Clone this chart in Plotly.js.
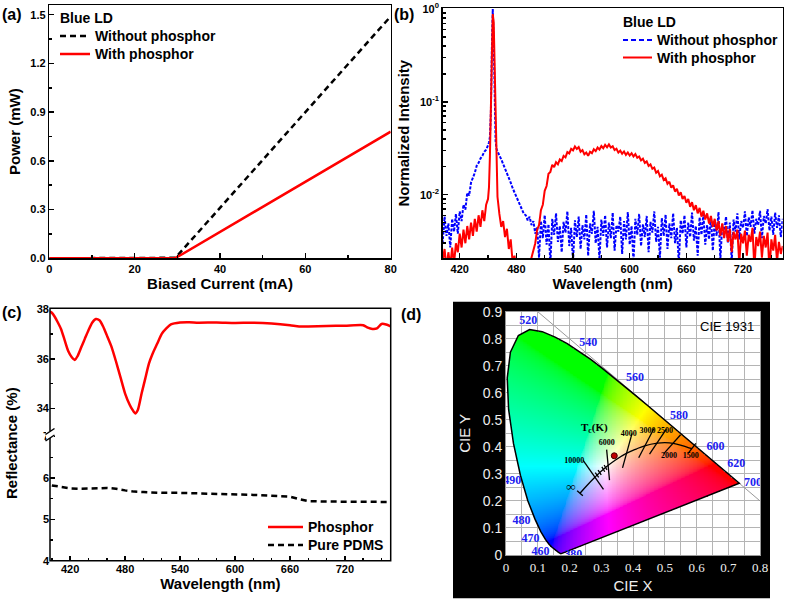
<!DOCTYPE html>
<html>
<head>
<meta charset="utf-8">
<script src="https://cdn.plot.ly/plotly-3.0.1.min.js"></script>
<style>body{margin:0;background:#fff}</style>
</head>
<body>
<div id="chart" style="width:787px;height:602px"></div>
<script>
// ---------- (a) power vs current ----------
const current = [0, 10, 20, 29, 29.5, 30, 40, 50, 60, 70, 80];
const powerNoPhos = [0, 0, 0, 0, 0.003, 0.016, 0.31, 0.605, 0.9, 1.195, 1.49];
const powerPhos = [0, 0, 0, 0, 0.002, 0.008, 0.163, 0.318, 0.473, 0.627, 0.78];

// ---------- (b) normalized spectra ----------
const wlB = [
  400,402,404,406,408,410,412,414,416,418,
  420,422,424,426,428,430,432,434,436,438,
  440,442,444,446,448,450,451,452,453,454,
  455,456,457,458,459,460,462,464,466,468,
  470,472,474,476,478,480,482,484,486,488,
  490,492,494,496,498,500,502,504,506,508,
  510,512,514,516,518,520,522,524,526,528,
  530,532,534,536,538,540,542,544,546,548,
  550,552,554,556,558,560,562,564,566,568,
  570,572,574,576,578,580,582,584,586,588,
  590,592,594,596,598,600,602,604,606,608,
  610,612,614,616,618,620,622,624,626,628,
  630,632,634,636,638,640,642,644,646,648,
  650,652,654,656,658,660,662,664,666,668,
  670,672,674,676,678,680,682,684,686,688,
  690,692,694,696,698,700,702,704,706,708,
  710,712,714,716,718,720,722,724,726,728,
  730,732,734,736,738,740,742,744,746,748,
  750,752,754,756,758,760,762
];
const specNoPhos = [
  0.0045,0.0031,0.0058,0.0036,0.0049,0.0027,0.0055,0.0040,0.0062,0.0038,
  0.0066,0.0052,0.0078,0.0069,0.0105,0.0098,0.0135,0.0150,0.0172,0.0205,
  0.0220,0.0245,0.0262,0.0290,0.0305,0.0340,0.0365,0.0420,0.075,0.35,
  1.0,0.45,0.09,0.038,0.031,0.029,0.0265,0.0240,0.0215,0.0190,
  0.0172,0.0150,0.0135,0.0118,0.0106,0.0093,0.0082,0.0076,0.0068,0.0062,
  0.0060,0.0053,0.0058,0.0047,0.0052,0.0038,0.0045,0.0021,0.0052,0.0034,
  0.0060,0.0029,0.0048,0.0018,0.0055,0.0037,0.0063,0.0031,0.0046,0.0024,
  0.0051,0.0039,0.0066,0.0028,0.0044,0.0019,0.0053,0.0035,0.0058,0.0026,
  0.0047,0.0033,0.0061,0.0022,0.0049,0.0038,0.0067,0.0030,0.0045,0.0020,
  0.0054,0.0036,0.0060,0.0027,0.0050,0.0034,0.0064,0.0025,0.0047,0.0040,
  0.0058,0.0023,0.0052,0.0033,0.0065,0.0029,0.0046,0.0019,0.0055,0.0037,
  0.0062,0.0028,0.0048,0.0035,0.0059,0.0024,0.0051,0.0039,0.0066,0.0031,
  0.0045,0.0021,0.0056,0.0036,0.0061,0.0026,0.0049,0.0034,0.0063,0.0030,
  0.0044,0.0018,0.0053,0.0038,0.0060,0.0027,0.0050,0.0035,0.0064,0.0032,
  0.0046,0.0022,0.0057,0.0037,0.0062,0.0029,0.0047,0.0033,0.0059,0.0025,
  0.0052,0.0036,0.0065,0.0020,0.0048,0.0039,0.0058,0.0030,0.0050,0.0019,
  0.0054,0.0040,0.0063,0.0033,0.0052,0.0044,0.0066,0.0036,0.0057,0.0045,
  0.0068,0.0038,0.0055,0.0047,0.0067,0.0034,0.0059,0.0049,0.0070,0.0041,
  0.0058,0.0037,0.0064,0.0044,0.0060,0.0035,0.0055
];
const specPhos = [
  0.0015,0.0019,0.0026,0.0016,0.0024,0.0017,0.0027,0.0018,0.0030,0.0024,
  0.0038,0.0027,0.0042,0.0030,0.0046,0.0033,0.0050,0.0036,0.0055,0.0040,
  0.0060,0.0045,0.0068,0.0052,0.0078,0.0090,0.0120,0.026,0.09,0.40,
  0.88,0.72,0.20,0.048,0.017,0.0095,0.0062,0.0045,0.0052,0.0035,
  0.0043,0.0026,0.0033,0.0019,0.0022,0.0015,0.0012,0.0014,0.0011,0.0013,
  0.0010,0.0014,0.0016,0.0021,0.0025,0.0030,0.0042,0.0047,0.0068,0.0078,
  0.0110,0.0124,0.0168,0.0176,0.0210,0.0198,0.0224,0.0212,0.0240,0.0230,
  0.0262,0.0252,0.0287,0.0278,0.0312,0.0300,0.0330,0.0310,0.0326,0.0290,
  0.0302,0.0272,0.0284,0.0262,0.0290,0.0280,0.0308,0.0294,0.0322,0.0306,
  0.0334,0.0316,0.0344,0.0324,0.0348,0.0322,0.0332,0.0302,0.0312,0.0284,
  0.0298,0.0276,0.0292,0.0268,0.0285,0.0264,0.0280,0.0258,0.0274,0.0250,
  0.0258,0.0234,0.0244,0.0220,0.0228,0.0204,0.0212,0.0190,0.0196,0.0172,
  0.0180,0.0158,0.0164,0.0144,0.0150,0.0131,0.0138,0.0119,0.0126,0.0108,
  0.0116,0.0098,0.0106,0.0090,0.0097,0.0082,0.0090,0.0074,0.0083,0.0068,
  0.0077,0.0063,0.0072,0.0058,0.0067,0.0054,0.0063,0.0049,0.0059,0.0045,
  0.0055,0.0041,0.0052,0.0036,0.0049,0.0034,0.0046,0.0031,0.0043,0.0024,
  0.0040,0.0033,0.0042,0.0018,0.0038,0.0030,0.0041,0.0022,0.0037,0.0031,
  0.0044,0.0016,0.0035,0.0028,0.0040,0.0021,0.0036,0.0027,0.0039,0.0015,
  0.0033,0.0025,0.0037,0.0019,0.0031,0.0023,0.0028
];

// ---------- (c) reflectance ----------
const wlPhos = [398,400,403,406,410,414,418,422,425,428,432,436,440,444,448,452,456,460,465,470,475,480,485,488,491,494,498,502,506,510,515,520,525,530,540,550,560,580,600,620,640,660,670,680,700,720,740,745,750,755,760,765,770];
const reflPhos = [37.9,37.85,37.7,37.5,37.2,36.75,36.3,36.05,35.95,36.1,36.45,36.8,37.15,37.45,37.6,37.55,37.3,36.95,36.5,35.9,35.25,34.6,34.15,33.95,33.8,33.95,34.6,35.2,35.8,36.2,36.6,37.0,37.22,37.38,37.46,37.47,37.45,37.46,37.44,37.45,37.42,37.35,37.3,37.3,37.32,37.33,37.35,37.25,37.2,37.22,37.4,37.38,37.3];
const wlPdms = [400,410,420,430,440,450,460,470,480,490,500,520,540,560,580,600,620,640,660,670,680,700,720,740,750,760,770];
const reflPdms = [5.82,5.78,5.75,5.74,5.74,5.75,5.76,5.74,5.7,5.67,5.66,5.64,5.64,5.63,5.62,5.6,5.59,5.57,5.55,5.49,5.44,5.43,5.43,5.43,5.42,5.43,5.42];

// ---------- (d) CIE 1931 ----------
const locusWl = [380,420,440,450,460,465,470,475,480,485,490,495,500,505,510,515,520,525,530,535,540,545,550,555,560,565,570,575,580,585,590,595,600,605,610,620,630,640,650,660,680,700];
const locusX = [0.1741,0.1714,0.1644,0.1566,0.1440,0.1355,0.1241,0.1096,0.0913,0.0687,0.0454,0.0235,0.0082,0.0039,0.0139,0.0389,0.0743,0.1142,0.1547,0.1929,0.2296,0.2658,0.3016,0.3373,0.3731,0.4087,0.4441,0.4788,0.5125,0.5448,0.5752,0.6029,0.6270,0.6482,0.6658,0.6915,0.7079,0.7190,0.7260,0.7300,0.7334,0.7347];
const locusY = [0.0050,0.0051,0.0109,0.0177,0.0297,0.0399,0.0578,0.0868,0.1327,0.2007,0.2950,0.4127,0.5384,0.6548,0.7502,0.8120,0.8338,0.8262,0.8059,0.7816,0.7543,0.7243,0.6923,0.6589,0.6245,0.5896,0.5547,0.5202,0.4866,0.4544,0.4242,0.3965,0.3725,0.3514,0.3340,0.3083,0.2920,0.2809,0.2740,0.2700,0.2666,0.2653];
const wlLabels = ['380','460','470','480','490','520','540','560','580','600','620','700'];
const wlLabelX = [0.212,0.109,0.077,0.049,0.02,0.07,0.259,0.406,0.545,0.66,0.725,0.778];
const wlLabelY = [0.0,0.011,0.058,0.127,0.275,0.867,0.783,0.653,0.513,0.398,0.337,0.265];
const planckX = [0.233,0.255,0.2807,0.2867,0.295,0.3064,0.3135,0.3221,0.345,0.3805,0.41,0.4369,0.477,0.50,0.5267,0.555,0.5857];
const planckY = [0.2285,0.257,0.2884,0.2952,0.3048,0.3166,0.3236,0.3318,0.3516,0.3768,0.392,0.4041,0.4137,0.4155,0.4133,0.405,0.3931];
// isotherm segments, null separated
const isoX = [0.224,0.242,null,0.243,0.307,null,0.281,0.292,null,0.290,0.300,null,0.302,0.311,null,0.309,0.318,null,0.317,0.326,null,0.397,0.367,null,0.466,0.418,null,0.505,0.452,null,0.55,0.497,null,0.598,0.573];
const isoY = [0.238,0.219,null,0.35,0.243,null,0.305,0.287,null,0.314,0.296,null,0.326,0.308,null,0.333,0.315,null,0.39,0.277,null,0.45,0.322,null,0.468,0.36,null,0.466,0.373,null,0.445,0.375,null,0.413,0.375];
const tcLabels = ['10000','6000','4000','3000','2500','2000','1500'];
const tcX = [0.215,0.317,0.387,0.446,0.501,0.513,0.582];
const tcY = [0.349,0.413,0.446,0.457,0.46,0.368,0.368];
const infX = [0.204];
const infY = [0.247];
const sampleX = [0.341];
const sampleY = [0.367];
const edgeX = [0.1, 0.8];
const edgeY = [0.9, 0.2];

const W = 787, H = 602;
const fx = p => p / W;
const fy = p => 1 - p / H;
const FONT = 'Liberation Sans, Arial, sans-serif';
const SERIF = 'Liberation Serif, Times New Roman, serif';
const tickFont = {family: FONT, size: 11, color: '#000', weight: 700};
const titleFont = {family: FONT, size: 15, color: '#000', weight: 700};
const legFont = {family: FONT, size: 14, color: '#000', weight: 700};

// colour fill of the horseshoe
function inLocus(x, y) {
  let c = false;
  const n = locusX.length;
  for (let i = 0, j = n - 1; i < n; j = i++) {
    const xi = locusX[i], yi = locusY[i], xj = locusX[j], yj = locusY[j];
    if ((yi > y) !== (yj > y) && x < (xj - xi) * (y - yi) / (yj - yi) + xi) c = !c;
  }
  return c;
}
function xyToRgb(x, y) {
  const X = x / y, Y = 1, Z = (1 - x - y) / y;
  let rgb = [
    3.2406 * X - 1.5372 * Y - 0.4986 * Z,
    -0.9689 * X + 1.8758 * Y + 0.0415 * Z,
    0.0557 * X - 0.2040 * Y + 1.0570 * Z
  ].map(v => Math.max(v, 0));
  const m = Math.max(...rgb);
  return rgb.map(v => {
    v = v / m;
    v = v <= 0.0031308 ? 12.92 * v : 1.055 * Math.pow(v, 1 / 2.4) - 0.055;
    return Math.round(v * 255);
  }).concat([1]);
}
const step = 0.0025;
const zImg = [];
for (let j = 0; j < Math.round(0.9 / step); j++) {
  const yy = (j + 0.5) * step;
  const row = [];
  for (let i = 0; i < Math.round(0.8 / step); i++) {
    const xx = (i + 0.5) * step;
    row.push(inLocus(xx, yy) ? xyToRgb(xx, yy) : [255, 255, 255, 0]);
  }
  zImg.push(row);
}

const data = [
  {x: current, y: powerNoPhos, xaxis: 'x', yaxis: 'y', mode: 'lines', name: 'Without phosphor',
   line: {color: '#000', dash: '6px,4px', width: 2.5}},
  {x: current, y: powerPhos, xaxis: 'x', yaxis: 'y', mode: 'lines', name: 'With phosphor',
   line: {color: '#ff0000', width: 2.5}},
  {x: wlB, y: specNoPhos, xaxis: 'x2', yaxis: 'y2', mode: 'lines', name: 'Without phosphor',
   line: {color: '#0000ff', dash: '3px,1.5px', width: 2}},
  {x: wlB, y: specPhos, xaxis: 'x2', yaxis: 'y2', mode: 'lines', name: 'With phosphor',
   line: {color: '#ff0000', width: 2}},
  {x: wlPhos, y: reflPhos, xaxis: 'x3', yaxis: 'y4', mode: 'lines', name: 'Phosphor',
   line: {color: '#ff0000', width: 2.5, shape: 'spline', smoothing: 0.6}},
  {x: wlPdms, y: reflPdms, xaxis: 'x3', yaxis: 'y3', mode: 'lines', name: 'Pure PDMS',
   line: {color: '#000', dash: '6px,4px', width: 2.5}},
  {type: 'image', z: zImg, x0: step / 2, dx: step, y0: step / 2, dy: step, colormodel: 'rgba',
   xaxis: 'x5', yaxis: 'y5', hoverinfo: 'skip'},
  {x: edgeX, y: edgeY, xaxis: 'x5', yaxis: 'y5', mode: 'lines',
   line: {color: '#999', width: 1}},
  {x: locusX.concat([locusX[0]]), y: locusY.concat([locusY[0]]), xaxis: 'x5', yaxis: 'y5',
   mode: 'lines', line: {color: '#000', width: 1.5}},
  {x: planckX, y: planckY, xaxis: 'x5', yaxis: 'y5', mode: 'lines',
   line: {color: '#000', width: 1.3, shape: 'spline'}},
  {x: isoX, y: isoY, xaxis: 'x5', yaxis: 'y5', mode: 'lines',
   line: {color: '#000', width: 1.3}},
  {x: sampleX, y: sampleY, xaxis: 'x5', yaxis: 'y5', mode: 'markers',
   marker: {color: '#c00000', size: 6, line: {color: '#400', width: 1}}},
  {x: wlLabelX, y: wlLabelY, text: wlLabels, xaxis: 'x5', yaxis: 'y5', mode: 'text',
   textfont: {family: SERIF, size: 12, color: '#2020f0', weight: 700}},
  {x: tcX, y: tcY, text: tcLabels, xaxis: 'x5', yaxis: 'y5', mode: 'text',
   textfont: {family: SERIF, size: 8, color: '#000', weight: 700}},
  {x: infX, y: infY, text: ['∞'], xaxis: 'x5', yaxis: 'y5', mode: 'text',
   textfont: {family: SERIF, size: 13, color: '#000', weight: 700}}
];

function frameAxis(extra) {
  return Object.assign({
    ticks: 'inside', ticklen: 5, tickwidth: 1.5, tickcolor: '#000',
    showline: true, mirror: true, linewidth: 1.5, linecolor: '#000',
    showgrid: false, zeroline: false, tickfont: tickFont, automargin: false
  }, extra);
}

// hand-placed legend blocks: sample from x0 to x1 at height y, in pixels
function legendRow(x0, x1, y, color, dash, width, text) {
  shapes.push({type: 'line', xref: 'paper', yref: 'paper', x0: fx(x0), x1: fx(x1), y0: fy(y), y1: fy(y),
    line: {color: color, width: width, dash: dash}});
  annotations.push({text: text, xref: 'paper', yref: 'paper', x: fx(x1 + 3), y: fy(y), xanchor: 'left',
    yanchor: 'middle', showarrow: false, font: legFont});
}
function label(text, xp, yp, font) {
  annotations.push({text: text, xref: 'paper', yref: 'paper', x: fx(xp), y: fy(yp),
    xanchor: 'left', yanchor: 'middle', showarrow: false, font: font});
}

const shapes = [
  // black card behind (d)
  {type: 'rect', xref: 'paper', yref: 'paper', x0: fx(453), x1: fx(770), y0: fy(598.3), y1: fy(301.7),
   fillcolor: '#000', line: {width: 0}, layer: 'below'},
  {type: 'rect', xref: 'x5', yref: 'y5', x0: 0, x1: 0.8, y0: 0, y1: 0.9,
   fillcolor: '#fff', line: {width: 0}, layer: 'below'},
  // frame of (c)
  {type: 'rect', xref: 'paper', yref: 'paper', x0: fx(50), x1: fx(390.7), y0: fy(560.7), y1: fy(308.3),
   line: {color: '#000', width: 1.5}},
  // axis break
  {type: 'rect', xref: 'paper', yref: 'paper', x0: fx(46), x1: fx(54), y0: fy(438), y1: fy(431),
   fillcolor: '#fff', line: {width: 0}},
  {type: 'line', xref: 'paper', yref: 'paper', x0: fx(45.5), x1: fx(54.5), y0: fy(434.5), y1: fy(428.5),
   line: {color: '#000', width: 1.5}},
  {type: 'line', xref: 'paper', yref: 'paper', x0: fx(45.5), x1: fx(54.5), y0: fy(441), y1: fy(435),
   line: {color: '#000', width: 1.5}}
];
const annotations = [
  {text: 'Reflectance (%)', xref: 'paper', yref: 'paper', x: fx(11), y: fy(443), textangle: -90,
   xanchor: 'center', yanchor: 'middle', showarrow: false, font: titleFont},
  {text: 'CIE 1931', xref: 'x5', yref: 'y5', x: 0.695, y: 0.847, showarrow: false,
   font: {family: FONT, size: 13, color: '#000'}},
  {text: 'T<sub>c</sub>(K)', xref: 'x5', yref: 'y5', x: 0.28, y: 0.468, showarrow: false,
   font: {family: SERIF, size: 11, color: '#000', weight: 700}}
];
const panelFont = {family: FONT, size: 16, weight: 700, color: '#000'};
label('(a)', 0, 14, panelFont);
label('(b)', 392, 14, panelFont);
label('(c)', 0, 312, panelFont);
label('(d)', 399, 314, panelFont);

label('Blue LD', 58, 18, legFont);
legendRow(60, 90, 36, '#000', '6px,4px', 2.5, 'Without phosphor');
legendRow(60, 90, 54, '#ff0000', 'solid', 2.5, 'With phosphor');
label('Blue LD', 621, 22, legFont);
legendRow(623, 652, 40, '#0000ff', '5px,3px', 2, 'Without phosphor');
legendRow(623, 652, 57.5, '#ff0000', 'solid', 2, 'With phosphor');
legendRow(268, 303, 527, '#ff0000', 'solid', 2.5, 'Phosphor');
legendRow(268, 303, 545, '#000', '6px,4px', 2.5, 'Pure PDMS');

const layout = {
  width: W, height: H,
  margin: {l: 0, r: 0, t: 0, b: 0},
  paper_bgcolor: 'white', plot_bgcolor: 'white',
  showlegend: false,
  xaxis: frameAxis({domain: [fx(49.3), fx(390.7)], anchor: 'y', range: [0, 80], tick0: 0, dtick: 20,
    minor: {ticks: 'inside', ticklen: 3, dtick: 10, tickcolor: '#000'},
    title: {text: 'Biased Current (mA)', font: titleFont, standoff: 4}}),
  yaxis: frameAxis({domain: [fy(258.3), fy(5)], anchor: 'x', range: [0, 1.56], tick0: 0, dtick: 0.3, tickformat: '.1f',
    minor: {ticks: 'inside', ticklen: 3, dtick: 0.15, tickcolor: '#000'},
    title: {text: 'Power (mW)', font: titleFont, standoff: 6}}),
  xaxis2: frameAxis({domain: [fx(442.7), fx(782.7)], anchor: 'y2', range: [402, 762], tick0: 420, dtick: 60,
    minor: {ticks: 'inside', ticklen: 3, dtick: 30, tick0: 420, tickcolor: '#000'},
    title: {text: 'Wavelength (nm)', font: titleFont, standoff: 4}}),
  yaxis2: frameAxis({domain: [fy(258.3), fy(8)], anchor: 'x2', type: 'log', range: [-2.685, 0.01],
    tickmode: 'array', tickvals: [0.01, 0.1, 1], ticktext: ['10<sup>-2</sup>', '10<sup>-1</sup>', '10<sup>0</sup>'],
    minor: {ticks: 'inside', ticklen: 3, tickcolor: '#000', tickmode: 'array',
      tickvals: [0.003,0.004,0.005,0.006,0.007,0.008,0.009,0.02,0.03,0.04,0.05,0.06,0.07,0.08,0.09,0.2,0.3,0.4,0.5,0.6,0.7,0.8,0.9]},
    title: {text: 'Normalized Intensity', font: titleFont, standoff: 6}}),
  xaxis3: frameAxis({domain: [fx(50), fx(390.7)], anchor: 'y3', range: [398, 770], tick0: 420, dtick: 60,
    showline: false, mirror: false,
    minor: {ticks: 'inside', ticklen: 3, dtick: 20, tick0: 420, tickcolor: '#000'},
    title: {text: 'Wavelength (nm)', font: titleFont, standoff: 4}}),
  yaxis3: frameAxis({domain: [fy(560.7), fy(433.3)], anchor: 'x3', range: [4, 7.08], tick0: 4, dtick: 1,
    showline: false, mirror: false,
    minor: {ticks: 'inside', ticklen: 3, dtick: 0.5, tick0: 4, tickcolor: '#000'}}),
  yaxis4: frameAxis({domain: [fy(433.3), fy(308.3)], anchor: 'x3', range: [33, 38.03], tick0: 34, dtick: 2,
    showline: false, mirror: false,
    minor: {ticks: 'inside', ticklen: 3, dtick: 1, tick0: 34, tickcolor: '#000'}}),
  xaxis5: {domain: [fx(506), fx(760)], anchor: 'y5', range: [0, 0.8], tick0: 0, dtick: 0.1,
    showgrid: true, gridcolor: '#b4b4b4', gridwidth: 1, zeroline: false, automargin: false,
    minor: {dtick: 0.05, showgrid: true, gridcolor: '#b4b4b4', gridwidth: 1},
    showline: true, mirror: true, linecolor: '#999', linewidth: 1, ticks: '',
    tickfont: {family: SERIF, size: 13, color: '#eee'},
    title: {text: 'CIE X', font: {family: FONT, size: 15, color: '#eee'}, standoff: 6}},
  yaxis5: {domain: [fy(555), fy(311.7)], anchor: 'x5', range: [0, 0.9], tick0: 0, dtick: 0.1,
    scaleanchor: false, autorange: false,
    showgrid: true, gridcolor: '#b4b4b4', gridwidth: 1, zeroline: false, automargin: false,
    minor: {dtick: 0.05, showgrid: true, gridcolor: '#b4b4b4', gridwidth: 1},
    showline: true, mirror: true, linecolor: '#999', linewidth: 1, ticks: '',
    tickfont: {family: FONT, size: 14, color: '#eee'},
    title: {text: 'CIE Y', font: {family: FONT, size: 15, color: '#eee'}, standoff: 8}},
  shapes: shapes,
  annotations: annotations
};

Plotly.newPlot('chart', data, layout, {displayModeBar: false, staticPlot: true});
</script>
</body>
</html>
